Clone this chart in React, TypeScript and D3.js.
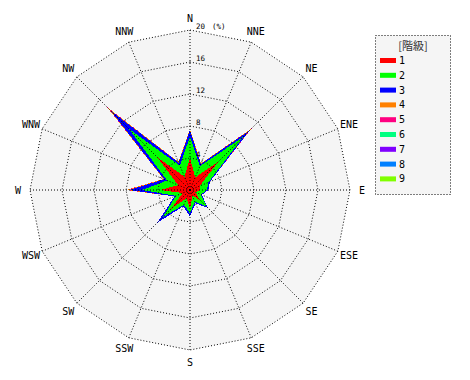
import React from "react";
import * as d3 from "d3";

const directions = ["N","NNE","NE","ENE","E","ESE","SE","SSE","S","SSW","SW","WSW","W","WNW","NW","NNW"];
const class1 = [4.0, 1.7, 5.0, 1.3, 1.3, 0.7, 1.7, 0.8, 2.3, 1.1, 3.3, 1.0, 3.7, 1.6, 5.8, 1.8];
const class2 = [2.7, 1.5, 4.4, 1.2, 0.8, 0.8, 1.2, 0.8, 0.6, 0.9, 1.5, 0.9, 2.3, 1.5, 5.0, 1.5];
const class3 = [0.8, 0.3, 1.1, 0.2, 0.2, 0.1, 0.3, 0.2, 0.4, 0.2, 1.0, 0.2, 1.6, 0.4, 3.2, 0.4];
const class4 = [0.1, 0.1, 0.3, 0, 0, 0, 0, 0, 0, 0, 0, 0, 0.3, 0.1, 0.5, 0.1];
const class5 = [0, 0, 0.1, 0, 0, 0, 0, 0, 0, 0, 0, 0, 0.1, 0, 0.2, 0];
const class6 = [0, 0, 0, 0, 0, 0, 0, 0, 0, 0, 0, 0, 0, 0, 0, 0];
const class7 = [0, 0, 0, 0, 0, 0, 0, 0, 0, 0, 0, 0, 0, 0, 0, 0];
const class8 = [0, 0, 0, 0, 0, 0, 0, 0, 0, 0, 0, 0, 0, 0, 0, 0];
const class9 = [0, 0, 0, 0, 0, 0, 0, 0, 0, 0, 0, 0, 0, 0, 0, 0];
const classLabels = ["1","2","3","4","5","6","7","8","9"];
const classColors = ["#ff0000","#00ff00","#0000ff","#ff8000","#ff0080","#00ff80","#8000ff","#0080ff","#80ff00"];
const ringTicks = [4, 8, 12, 16, 20];
const legendTitle = "[階級]";
const unitLabel = "(%)";

const W = 470, H = 380;
const cx = 190, cy = 190, R = 160;
const mono = "'DejaVu Sans Mono', monospace";

export default function App() {
  const classes = [class1, class2, class3, class4, class5, class6, class7, class8, class9];
  const rScale = d3.scaleLinear().domain([0, 20]).range([0, R]);
  const n = directions.length;
  const aScale = d3.scaleLinear().domain([0, n]).range([0, 2 * Math.PI]);

  const cum: number[][] = [];
  classes.forEach((arr, k) => {
    cum.push(arr.map((v, i) => v + (k > 0 ? cum[k - 1][i] : 0)));
  });

  const radial = d3.lineRadial<number>()
    .angle((_, i) => aScale(i))
    .radius(d => rScale(d))
    .curve(d3.curveLinearClosed);

  const ringPath = (v: number) => radial(directions.map(() => v)) as string;
  const pt = (i: number, r: number) => {
    const a = aScale(i);
    return [cx + r * Math.sin(a), cy - r * Math.cos(a)];
  };

  return (
    <svg width={W} height={H} style={{ position: "absolute", left: 0, top: 0, background: "#fff" }}>
      <g transform={`translate(${cx},${cy})`}>
        <path d={ringPath(20)} fill="#f5f5f5" stroke="none" />
        {classes.map((_, k) => classes.length - 1 - k).map(k => (
          <path key={k} d={radial(cum[k]) as string} fill={classColors[k]} stroke="none" shapeRendering="crispEdges" />
        ))}
        {ringTicks.map(t => (
          <path key={t} d={ringPath(t)} fill="none" stroke="#000" strokeWidth={1} strokeDasharray="1 2" />
        ))}
        {directions.map((d, i) => {
          const [x, y] = pt(i, R);
          return <line key={d} x1={0} y1={0} x2={x - cx} y2={y - cy} stroke="#000" strokeWidth={1} strokeDasharray="1 2" />;
        })}
      </g>
      {ringTicks.map(t => (
        <text key={t} x={196} y={cy - rScale(t) - 1} fontFamily={mono} fontSize={7.5} fill="#000">{t}</text>
      ))}
      <text x={212} y={cy - rScale(20) - 1} fontFamily={mono} fontSize={7.5} fill="#000">{unitLabel}</text>
      {directions.map((d, i) => {
        const [x, y] = pt(i, 172);
        return (
          <text key={d} x={x} y={y} textAnchor="middle" dominantBaseline="central" fontFamily={mono} fontSize={10} fill="#000">{d}</text>
        );
      })}
      <rect x={375.5} y={35.5} width={75} height={159} fill="#f5f5f5" stroke="#000" strokeDasharray="1 2" />
      <text x={413} y={45} textAnchor="middle" dominantBaseline="central" fontFamily="'Noto Sans CJK JP', sans-serif" fontSize={11} fill="#333">{legendTitle}</text>
      {classLabels.map((c, k) => {
        const y = 60.5 + k * 14.8;
        return (
          <g key={c}>
            <rect x={380} y={y - 2.5} width={16} height={5} fill={classColors[k]} />
            <text x={399} y={y} dominantBaseline="central" fontFamily={mono} fontSize={10} fill="#000">{c}</text>
          </g>
        );
      })}
    </svg>
  );
}
